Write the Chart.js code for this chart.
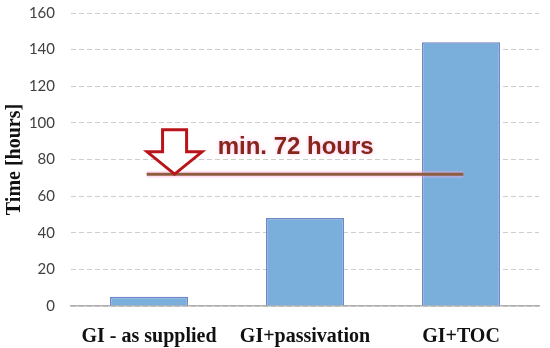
<!DOCTYPE html>
<html>
<head>
<meta charset="utf-8">
<script src="https://cdn.jsdelivr.net/npm/chart.js@4"></script>
<style>
  html, body { margin: 0; padding: 0; background: #ffffff; }
  #wrap { width: 550px; height: 348px; }
</style>
</head>
<body>
<div id="wrap"><canvas id="c" width="550" height="348"></canvas></div>
<script>
// ---- data ----
const categories = ['GI - as supplied', 'GI+passivation', 'GI+TOC'];
const timeHours = [5, 48, 144];
const yTicksMax = 160;
const yTickStep = 20;
const yAxisTitle = 'Time [hours]';
const thresholdValue = 72;
const thresholdLabel = 'min. 72 hours';
// threshold line span (in category index units) and label/arrow anchors
const thresholdSpan = [-0.015, 2.015];
const labelAnchor = [0.44, 83];          // [category index, value] of text baseline start
const arrowCenter = 0.164;               // category index of arrow centre
const arrowHeadTop = 84.2;               // value where arrow head begins
const arrowShaftTop = 96.2;              // value at top of arrow shaft
const arrowHeadHalf = 0.176;             // half width of head (index units)
const arrowShaftHalf = 0.077;            // half width of shaft (index units)

const annotationPlugin = {
  id: 'thresholdAnnotation',
  afterDatasetsDraw(chart) {
    const ctx = chart.ctx;
    const xs = chart.scales.x, ys = chart.scales.y;
    const y72 = ys.getPixelForValue(thresholdValue);
    const x0 = xs.getPixelForValue(thresholdSpan[0]);
    const x1 = xs.getPixelForValue(thresholdSpan[1]);
    ctx.save();
    // soft pink halo
    ctx.strokeStyle = 'rgba(255,170,230,0.35)';
    ctx.lineWidth = 7;
    ctx.beginPath(); ctx.moveTo(x0, y72); ctx.lineTo(x1, y72); ctx.stroke();
    // threshold line
    ctx.strokeStyle = '#8f5c3e';
    ctx.lineWidth = 3;
    ctx.beginPath(); ctx.moveTo(x0, y72); ctx.lineTo(x1, y72); ctx.stroke();

    // arrow
    const cx = xs.getPixelForValue(arrowCenter);
    const hL = xs.getPixelForValue(arrowCenter - arrowHeadHalf);
    const hR = xs.getPixelForValue(arrowCenter + arrowHeadHalf);
    const sL = xs.getPixelForValue(arrowCenter - arrowShaftHalf);
    const sR = xs.getPixelForValue(arrowCenter + arrowShaftHalf);
    const yTop = ys.getPixelForValue(arrowShaftTop);
    const yHead = ys.getPixelForValue(arrowHeadTop);
    ctx.beginPath();
    ctx.moveTo(sL, yTop);
    ctx.lineTo(sR, yTop);
    ctx.lineTo(sR, yHead);
    ctx.lineTo(hR, yHead);
    ctx.lineTo(cx, y72);
    ctx.lineTo(hL, yHead);
    ctx.lineTo(sL, yHead);
    ctx.closePath();
    ctx.fillStyle = '#ffffff';
    ctx.fill();
    ctx.strokeStyle = '#b8141a';
    ctx.lineWidth = 3;
    ctx.lineJoin = 'miter';
    ctx.stroke();

    // label
    ctx.font = 'bold 24px "Liberation Sans", Arial, sans-serif';
    ctx.textAlign = 'left';
    ctx.textBaseline = 'alphabetic';
    ctx.shadowColor = 'rgba(255,150,220,0.6)';
    ctx.shadowBlur = 4;
    ctx.fillStyle = '#86261a';
    ctx.fillText(thresholdLabel, xs.getPixelForValue(labelAnchor[0]), ys.getPixelForValue(labelAnchor[1]));
    ctx.restore();
  }
};

new Chart(document.getElementById('c'), {
  type: 'bar',
  data: {
    labels: categories,
    datasets: [{
      data: timeHours,
      backgroundColor: '#7aaedb',
      borderColor: '#6f86c9',
      borderWidth: 1.5,
      categoryPercentage: 1.0,
      barPercentage: 0.5
    }]
  },
  options: {
    responsive: false,
    devicePixelRatio: 1,
    animation: false,
    layout: { padding: { top: 13, right: 11, bottom: 0, left: 0 } },
    plugins: { legend: { display: false }, tooltip: { enabled: false } },
    scales: {
      x: {
        grid: { display: false, drawTicks: false },
        border: { display: true, color: '#b0b0b0', width: 1.5 },
        ticks: {
          padding: 19,
          color: '#111111',
          font: { family: '"Liberation Serif", "Times New Roman", serif', weight: 'bold', size: 20 }
        },
        afterFit(scale) { scale.height = 42; }
      },
      y: {
        min: 0,
        max: yTicksMax,
        grid: { color: '#cccccc', lineWidth: 1, drawTicks: true, tickLength: 14, tickColor: 'rgba(0,0,0,0)' },
        border: { display: false, dash: [5, 3] },
        ticks: {
          stepSize: yTickStep,
          padding: 2,
          color: '#404040',
          font: { family: 'Lato, "Open Sans", sans-serif', size: 15 }
        },
        title: {
          display: true,
          text: yAxisTitle,
          color: '#111111',
          padding: { top: 3, bottom: 0 },
          font: { family: '"Liberation Serif", "Times New Roman", serif', weight: 'bold', size: 20 }
        },
        afterFit(scale) { scale.width = 71; }
      }
    }
  },
  plugins: [annotationPlugin]
});
</script>
</body>
</html>
